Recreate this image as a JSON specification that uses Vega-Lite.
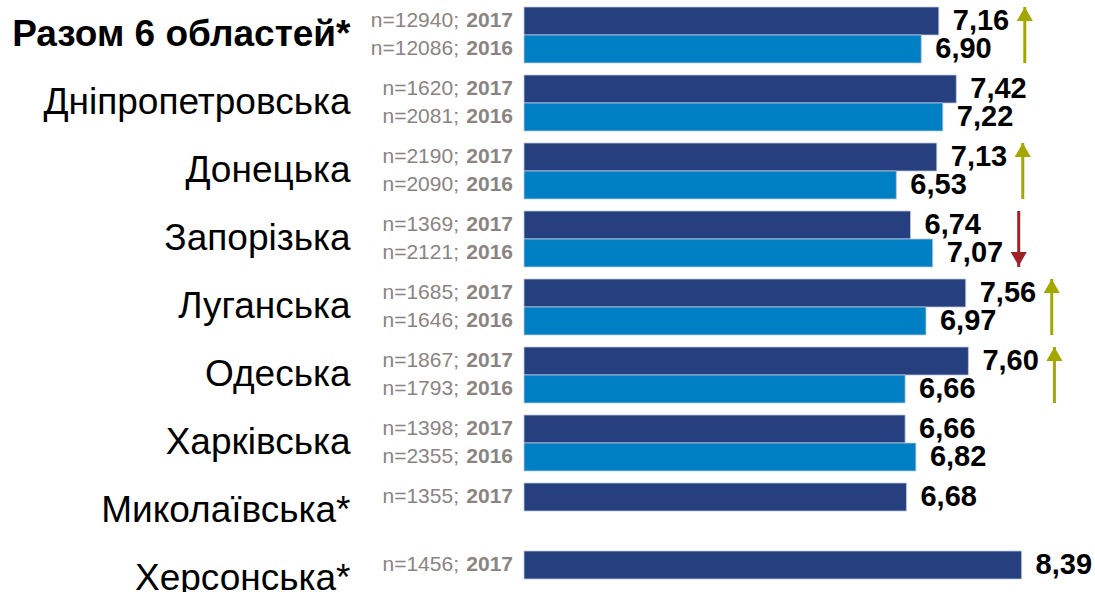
{
  "$schema": "https://vega.github.io/schema/vega-lite/v6.json",
  "autosize": {"type": "none"},
  "padding": {"left": 524, "top": 7, "right": 0, "bottom": 0},
  "width": 571,
  "height": 600,
  "background": "white",
  "config": {
    "view": {"stroke": null},
    "locale": {"number": {"decimal": ",", "thousands": " ", "grouping": [3], "currency": ["", ""]}}
  },
  "datasets": {
    "bars": [
      {"region": "Разом 6 областей*", "year": "2017", "value": 7.16, "nLabel": "n=12940;"},
      {"region": "Разом 6 областей*", "year": "2016", "value": 6.90, "nLabel": "n=12086;"},
      {"region": "Дніпропетровська", "year": "2017", "value": 7.42, "nLabel": "n=1620;"},
      {"region": "Дніпропетровська", "year": "2016", "value": 7.22, "nLabel": "n=2081;"},
      {"region": "Донецька", "year": "2017", "value": 7.13, "nLabel": "n=2190;"},
      {"region": "Донецька", "year": "2016", "value": 6.53, "nLabel": "n=2090;"},
      {"region": "Запорізька", "year": "2017", "value": 6.74, "nLabel": "n=1369;"},
      {"region": "Запорізька", "year": "2016", "value": 7.07, "nLabel": "n=2121;"},
      {"region": "Луганська", "year": "2017", "value": 7.56, "nLabel": "n=1685;"},
      {"region": "Луганська", "year": "2016", "value": 6.97, "nLabel": "n=1646;"},
      {"region": "Одеська", "year": "2017", "value": 7.60, "nLabel": "n=1867;"},
      {"region": "Одеська", "year": "2016", "value": 6.66, "nLabel": "n=1793;"},
      {"region": "Харківська", "year": "2017", "value": 6.66, "nLabel": "n=1398;"},
      {"region": "Харківська", "year": "2016", "value": 6.82, "nLabel": "n=2355;"},
      {"region": "Миколаївська*", "year": "2017", "value": 6.68, "nLabel": "n=1355;"},
      {"region": "Херсонська*", "year": "2017", "value": 8.39, "nLabel": "n=1456;"}
    ],
    "arrows": [
      {"region": "Разом 6 областей*", "dir": "up", "max": 7.16},
      {"region": "Донецька", "dir": "up", "max": 7.13},
      {"region": "Запорізька", "dir": "down", "max": 7.07},
      {"region": "Луганська", "dir": "up", "max": 7.56},
      {"region": "Одеська", "dir": "up", "max": 7.60}
    ]
  },
  "encoding": {
    "y": {
      "field": "region",
      "type": "nominal",
      "scale": {
        "domain": ["Разом 6 областей*", "Дніпропетровська", "Донецька", "Запорізька", "Луганська", "Одеська", "Харківська", "Миколаївська*", "Херсонська*"],
        "paddingInner": 0.1765,
        "paddingOuter": 0
      },
      "axis": {
        "title": null,
        "domain": false,
        "ticks": false,
        "grid": false,
        "labelFont": "Liberation Sans",
        "labelFontSize": 37,
        "labelColor": "#000000",
        "labelPadding": 174,
        "labelLimit": 500,
        "labelFontWeight": {"condition": {"test": "datum.value === 'Разом 6 областей*'", "value": "bold"}, "value": "normal"}
      }
    }
  },
  "layer": [
    {
      "data": {"name": "bars"},
      "mark": {"type": "bar", "stroke": "#bcc6de", "strokeWidth": 0.8},
      "encoding": {
        "x": {"field": "value", "type": "quantitative", "scale": {"domain": [1, 9.48], "zero": false, "nice": false}, "axis": null},
        "x2": {"datum": 1},
        "yOffset": {"field": "year", "type": "nominal", "scale": {"domain": ["2017", "2016"], "paddingInner": 0, "paddingOuter": 0}},
        "color": {"field": "year", "type": "nominal", "scale": {"domain": ["2017", "2016"], "range": ["#26407f", "#0080c4"]}, "legend": null}
      }
    },
    {
      "data": {"name": "bars"},
      "mark": {"type": "text", "align": "left", "baseline": "middle", "dx": 14, "font": "Liberation Sans", "fontWeight": "bold", "fontSize": 29, "color": "#000000"},
      "encoding": {
        "x": {"field": "value", "type": "quantitative"},
        "yOffset": {"field": "year", "type": "nominal"},
        "text": {"field": "value", "type": "quantitative", "format": ".2f"}
      }
    },
    {
      "data": {"name": "bars"},
      "mark": {"type": "text", "align": "right", "baseline": "middle", "dx": -11, "font": "Liberation Sans", "fontWeight": "bold", "fontSize": 21, "color": "#8b8480"},
      "encoding": {
        "x": {"datum": 1},
        "yOffset": {"field": "year", "type": "nominal"},
        "text": {"field": "year", "type": "nominal"}
      }
    },
    {
      "data": {"name": "bars"},
      "mark": {"type": "text", "align": "right", "baseline": "middle", "dx": -65, "font": "Liberation Sans", "fontSize": 21, "color": "#8b8480"},
      "encoding": {
        "x": {"datum": 1},
        "yOffset": {"field": "year", "type": "nominal"},
        "text": {"field": "nLabel", "type": "nominal"}
      }
    },
    {
      "data": {"name": "arrows"},
      "transform": [{"filter": "datum.dir === 'up'"}],
      "mark": {"type": "tick", "orient": "vertical", "size": 56, "thickness": 3, "xOffset": 86, "opacity": 1, "color": "#a3a800"},
      "encoding": {
        "x": {"field": "max", "type": "quantitative"}
      }
    },
    {
      "data": {"name": "arrows"},
      "transform": [{"filter": "datum.dir === 'down'"}],
      "mark": {"type": "tick", "orient": "vertical", "size": 56, "thickness": 3, "xOffset": 86, "opacity": 1, "color": "#a0202a"},
      "encoding": {
        "x": {"field": "max", "type": "quantitative"}
      }
    },
    {
      "data": {"name": "arrows"},
      "transform": [{"filter": "datum.dir === 'up'"}],
      "mark": {"type": "point", "shape": "triangle-up", "filled": true, "size": 260, "xOffset": 86, "yOffset": -21, "opacity": 1, "color": "#a3a800"},
      "encoding": {
        "x": {"field": "max", "type": "quantitative"}
      }
    },
    {
      "data": {"name": "arrows"},
      "transform": [{"filter": "datum.dir === 'down'"}],
      "mark": {"type": "point", "shape": "triangle-down", "filled": true, "size": 260, "xOffset": 86, "yOffset": 20, "opacity": 1, "color": "#a0202a"},
      "encoding": {
        "x": {"field": "max", "type": "quantitative"}
      }
    }
  ]
}
